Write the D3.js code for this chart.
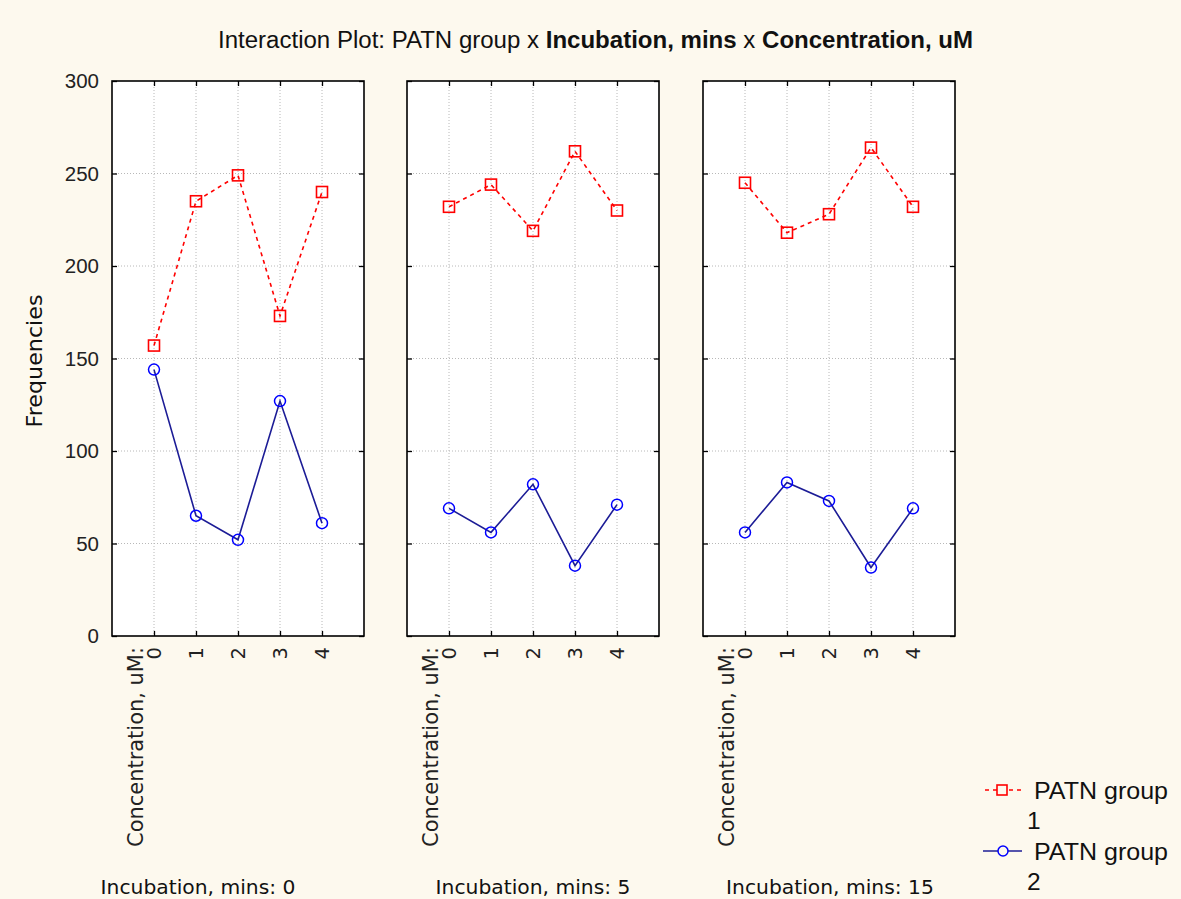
<!DOCTYPE html>
<html>
<head>
<meta charset="utf-8">
<script src="https://cdn.jsdelivr.net/npm/d3@7"></script>
<style>
  html, body { margin: 0; padding: 0; background: #fdf9ee; }
  svg { display: block; }
</style>
</head>
<body>
<svg id="chart" width="1181" height="899"></svg>
<script>
// ---------- data ----------
const concentrations = [0, 1, 2, 3, 4];
const incubations = [0, 5, 15];
const groupNames = ["PATN group 1", "PATN group 2"];
// rows = incubation panels, columns = concentration
const group1 = [
  [157, 235, 249, 173, 240],
  [232, 244, 219, 262, 230],
  [245, 218, 228, 264, 232]
];
const group2 = [
  [144, 65, 52, 127, 61],
  [69, 56, 82, 38, 71],
  [56, 83, 73, 37, 69]
];
const yTicks = [0, 50, 100, 150, 200, 250, 300];

// ---------- layout ----------
const W = 1181, H = 899;
const panelLeft = [112, 407, 703];
const panelW = 252;
const plotTop = 81, plotBottom = 636;
const bottomLabelCenter = [198, 533, 830];

const svg = d3.select("#chart");
svg.append("rect").attr("width", W).attr("height", H).attr("fill", "#fdf9ee");

const y = d3.scaleLinear().domain([0, 300]).range([plotBottom, plotTop]);

const redColor = "#ff0000";
const blueMarker = "#0000ff";
const blueLine = "#1c1c96";

// ---------- title ----------
const title = svg.append("text")
  .attr("x", 218).attr("y", 48)
  .attr("font-family", "Liberation Sans, Arial, sans-serif")
  .attr("font-size", 23).attr("fill", "#111");
title.append("tspan").text("Interaction Plot: PATN group x ");
title.append("tspan").attr("font-weight", "bold").text("Incubation, mins");
title.append("tspan").text(" x ");
title.append("tspan").attr("font-weight", "bold").text("Concentration, uM");
title.attr("textLength", 755).attr("lengthAdjust", "spacingAndGlyphs");

// ---------- y axis title ----------
svg.append("text")
  .attr("transform", "translate(42," + 361 + ") rotate(-90)")
  .attr("text-anchor", "middle")
  .attr("font-family", "DejaVu Sans, sans-serif")
  .attr("font-size", 20.5).attr("fill", "#111")
  .attr("textLength", 133).attr("lengthAdjust", "spacingAndGlyphs")
  .text("Frequencies");

const lineGen = d3.line();

incubations.forEach((inc, p) => {
  const x0 = panelLeft[p];
  const x = d3.scaleLinear().domain([-1, 5]).range([x0, x0 + panelW]);
  const g = svg.append("g");

  // plot background
  g.append("rect")
    .attr("x", x0).attr("y", plotTop)
    .attr("width", panelW).attr("height", plotBottom - plotTop)
    .attr("fill", "#ffffff");

  // grid
  g.selectAll(".vgrid").data(concentrations).enter().append("line")
    .attr("x1", d => x(d)).attr("x2", d => x(d))
    .attr("y1", plotTop).attr("y2", plotBottom)
    .attr("stroke", "#b8b8b8").attr("stroke-width", 1)
    .attr("stroke-dasharray", "1,2");
  g.selectAll(".hgrid").data(yTicks.filter(t => t > 0 && t < 300)).enter().append("line")
    .attr("x1", x0).attr("x2", x0 + panelW)
    .attr("y1", d => y(d)).attr("y2", d => y(d))
    .attr("stroke", "#b8b8b8").attr("stroke-width", 1)
    .attr("stroke-dasharray", "1,2");

  // axes with inward ticks on all sides
  const ax = (sel) => { sel.select(".domain").remove(); sel.selectAll(".tick line").attr("stroke", "#000").attr("stroke-width", 1.3); };
  const left = g.append("g").attr("transform", `translate(${x0},0)`)
    .call(d3.axisLeft(y).tickValues(yTicks).tickSize(-5).tickPadding(13)
      .tickFormat(p === 0 ? d3.format("d") : () => ""));
  ax(left);
  left.selectAll("text")
    .attr("font-family", "Liberation Sans, Arial, sans-serif")
    .attr("font-size", 20.5).attr("fill", "#222");
  const right = g.append("g").attr("transform", `translate(${x0 + panelW},0)`)
    .call(d3.axisRight(y).tickValues(yTicks).tickSize(-5).tickFormat(() => ""));
  ax(right);
  const top = g.append("g").attr("transform", `translate(0,${plotTop})`)
    .call(d3.axisTop(x).tickValues(concentrations).tickSize(-5).tickFormat(() => ""));
  ax(top);
  const bottom = g.append("g").attr("transform", `translate(0,${plotBottom})`)
    .call(d3.axisBottom(x).tickValues(concentrations).tickSize(-5).tickFormat(() => ""));
  ax(bottom);

  // border
  g.append("rect")
    .attr("x", x0).attr("y", plotTop)
    .attr("width", panelW).attr("height", plotBottom - plotTop)
    .attr("fill", "none").attr("stroke", "#000").attr("stroke-width", 1.6);

  // rotated x tick labels
  g.selectAll(".xl").data(concentrations).enter().append("text")
    .attr("transform", d => `translate(${x(d)},647) rotate(-90)`)
    .attr("text-anchor", "end").attr("dy", "0.36em")
    .attr("font-family", "DejaVu Sans, sans-serif")
    .attr("font-size", 19.5).attr("fill", "#222")
    .text(d => d);
  g.append("text")
    .attr("transform", `translate(${x(0) - 18},647) rotate(-90)`)
    .attr("text-anchor", "end").attr("dy", "0.36em")
    .attr("font-family", "DejaVu Sans, sans-serif")
    .attr("font-size", 20.5).attr("fill", "#222")
    .attr("textLength", 200).attr("lengthAdjust", "spacingAndGlyphs")
    .text("Concentration, uM:");

  // bottom label
  g.append("text")
    .attr("x", bottomLabelCenter[p]).attr("y", 894)
    .attr("text-anchor", "middle")
    .attr("font-family", "DejaVu Sans, sans-serif")
    .attr("font-size", 20.3).attr("fill", "#111")
    .text("Incubation, mins: " + inc);

  // series 1 (red dashed, squares)
  const pts1 = concentrations.map((c, i) => [x(c), y(group1[p][i])]);
  g.append("path").attr("d", lineGen(pts1))
    .attr("fill", "none").attr("stroke", redColor).attr("stroke-width", 1.6)
    .attr("stroke-dasharray", "4,4");
  g.selectAll(".sq").data(pts1).enter().append("rect")
    .attr("x", d => d[0] - 5.5).attr("y", d => d[1] - 5.5)
    .attr("width", 11).attr("height", 11)
    .attr("fill", "none").attr("stroke", redColor).attr("stroke-width", 1.6);

  // series 2 (blue solid, circles)
  const pts2 = concentrations.map((c, i) => [x(c), y(group2[p][i])]);
  g.append("path").attr("d", lineGen(pts2))
    .attr("fill", "none").attr("stroke", blueLine).attr("stroke-width", 1.6);
  g.selectAll(".ci").data(pts2).enter().append("circle")
    .attr("cx", d => d[0]).attr("cy", d => d[1]).attr("r", 5.5)
    .attr("fill", "none").attr("stroke", blueMarker).attr("stroke-width", 1.5);
});

// ---------- legend ----------
const lg = svg.append("g");
const legendFont = "Liberation Sans, Arial, sans-serif";
const lfs = 24.5;
// group 1
lg.append("line").attr("x1", 985).attr("x2", 1021).attr("y1", 790).attr("y2", 790)
  .attr("stroke", redColor).attr("stroke-width", 1.5).attr("stroke-dasharray", "4,4");
lg.append("rect").attr("x", 997).attr("y", 785).attr("width", 10).attr("height", 10)
  .attr("fill", "#fdf9ee").attr("stroke", redColor).attr("stroke-width", 1.6);
lg.append("text").attr("x", 1034).attr("y", 799).attr("font-family", legendFont)
  .attr("font-size", lfs).attr("fill", "#111")
  .attr("textLength", 134).attr("lengthAdjust", "spacingAndGlyphs")
  .text(groupNames[0].slice(0, 10));
lg.append("text").attr("x", 1027).attr("y", 829).attr("font-family", legendFont)
  .attr("font-size", lfs).attr("fill", "#111").text(groupNames[0].slice(11));
// group 2
lg.append("line").attr("x1", 983).attr("x2", 1022).attr("y1", 851).attr("y2", 851)
  .attr("stroke", blueLine).attr("stroke-width", 1.6);
lg.append("circle").attr("cx", 1003).attr("cy", 851).attr("r", 5)
  .attr("fill", "#fdf9ee").attr("stroke", blueMarker).attr("stroke-width", 1.5);
lg.append("text").attr("x", 1034).attr("y", 860).attr("font-family", legendFont)
  .attr("font-size", lfs).attr("fill", "#111")
  .attr("textLength", 134).attr("lengthAdjust", "spacingAndGlyphs")
  .text(groupNames[1].slice(0, 10));
lg.append("text").attr("x", 1027).attr("y", 890).attr("font-family", legendFont)
  .attr("font-size", lfs).attr("fill", "#111").text(groupNames[1].slice(11));
</script>
</body>
</html>
